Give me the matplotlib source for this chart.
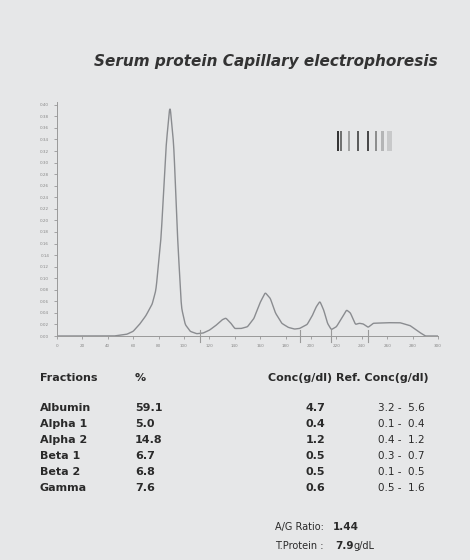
import numpy as np
import matplotlib.pyplot as plt
from matplotlib.patches import Rectangle

px = [0, 45, 55, 60, 65, 70, 75, 78, 82, 86, 89, 92, 95, 98, 101, 105, 110, 115, 120, 125, 130, 133, 137, 140, 145, 150, 155, 160, 164, 168, 172, 177, 182, 187, 191, 197, 201, 204, 207, 210, 213, 216, 220, 224, 228, 231, 235, 238, 241, 245, 249, 260, 270, 278, 285, 290, 300]
py = [0, 0, 0.003, 0.008, 0.02, 0.035, 0.055, 0.08, 0.17, 0.33, 0.40, 0.33, 0.17, 0.05, 0.02, 0.008, 0.004, 0.005, 0.01, 0.018, 0.028, 0.031, 0.022, 0.013, 0.013, 0.016, 0.03, 0.058, 0.075, 0.065, 0.04, 0.022, 0.015, 0.012, 0.013, 0.02, 0.035, 0.05, 0.06, 0.045, 0.022, 0.011, 0.016, 0.03, 0.045, 0.04, 0.02, 0.022, 0.021, 0.015, 0.022, 0.023, 0.023, 0.018, 0.007, 0.0, 0.0]
dividers = [113, 191, 216, 245]

fractions = ["Albumin", "Alpha 1", "Alpha 2", "Beta 1", "Beta 2", "Gamma"]
percent = ["59.1", "5.0", "14.8", "6.7", "6.8", "7.6"]
conc = ["4.7", "0.4", "1.2", "0.5", "0.5", "0.6"]
ref_lo = ["3.2", "0.1", "0.4", "0.3", "0.1", "0.5"]
ref_hi = ["5.6", "0.4", "1.2", "0.7", "0.5", "1.6"]
ag_ratio = "1.44"
t_protein = "7.9"

bg = "#e6e7e8"
fig = plt.figure(figsize=(4.7, 5.6), dpi=100, facecolor=bg)
ax = fig.add_axes([0.121, 0.4, 0.811, 0.418], facecolor=bg)
xs = np.linspace(0, 300, 1200)
ys = np.interp(xs, px, py)
k = np.ones(5) / 5
ys = np.convolve(ys, k, mode="same")
ax.plot(xs, ys, color="#8a8c90", lw=1)
for d in dividers:
    ax.plot([d, d], [-0.01, 0.01], color="#9a9a9a", lw=0.8, clip_on=False)
ax.set_xlim(0, 300)
ax.set_ylim(0, 0.405)
ax.set_xticks(range(0, 301, 20))
ax.set_yticks(np.arange(0, 0.401, 0.02))
ax.set_yticklabels([f"{v:.2f}" for v in np.arange(0, 0.401, 0.02)])
ax.tick_params(labelsize=3, colors="#888888", length=2, width=0.5)
for s in ["top", "right"]:
    ax.spines[s].set_visible(False)
for s in ["left", "bottom"]:
    ax.spines[s].set_color("#999999")
    ax.spines[s].set_linewidth(0.7)

# gel strip
gx = fig.add_axes([0.68, 0.73, 0.18, 0.036])
gx.axis("off")
gx.set_xlim(0, 100); gx.set_ylim(0, 1)
bands = [(20, 3, 0.9), (24, 2, 0.6), (34, 2, 0.35), (44, 3, 0.7), (56, 2, 0.8), (65, 3, 0.45), (72, 4, 0.25), (80, 6, 0.15)]
for b, w, a in bands:
    gx.add_patch(Rectangle((b, 0), w, 1, color="#222222", alpha=a, lw=0))

fig.text(0.2, 0.883, "Serum protein Capillary electrophoresis", fontsize=11, style="italic", weight="bold", color="#333333")

def fy(y):
    return 1 - y / 560

c = "#2a2a2a"
fig.text(40/470, fy(378), "Fractions", fontsize=8, weight="bold", color=c, va="center")
fig.text(135/470, fy(378), "%", fontsize=8, weight="bold", color=c, va="center")
fig.text(268/470, fy(378), "Conc(g/dl) Ref. Conc(g/dl)", fontsize=8, weight="bold", color=c, va="center")
for i in range(len(fractions)):
    y = fy(408 + 16 * i)
    fig.text(40/470, y, fractions[i], fontsize=8, weight="bold", color=c, va="center")
    fig.text(135/470, y, percent[i], fontsize=8, weight="bold", color=c, va="center")
    fig.text(306/470, y, conc[i], fontsize=8, weight="bold", color=c, va="center")
    fig.text(378/470, y, f"{ref_lo[i]} -  {ref_hi[i]}", fontsize=7.5, color=c, va="center")
fig.text(275/470, fy(527), "A/G Ratio:", fontsize=7, color=c, va="center")
fig.text(333/470, fy(527), ag_ratio, fontsize=7.5, weight="bold", color=c, va="center")
fig.text(275/470, fy(546), "T.Protein :", fontsize=7, color=c, va="center")
fig.text(335/470, fy(546), t_protein, fontsize=7.5, weight="bold", color=c, va="center")
fig.text(353/470, fy(546), "g/dL", fontsize=7, color=c, va="center")

fig.savefig("out.png", dpi=100, facecolor=bg)
